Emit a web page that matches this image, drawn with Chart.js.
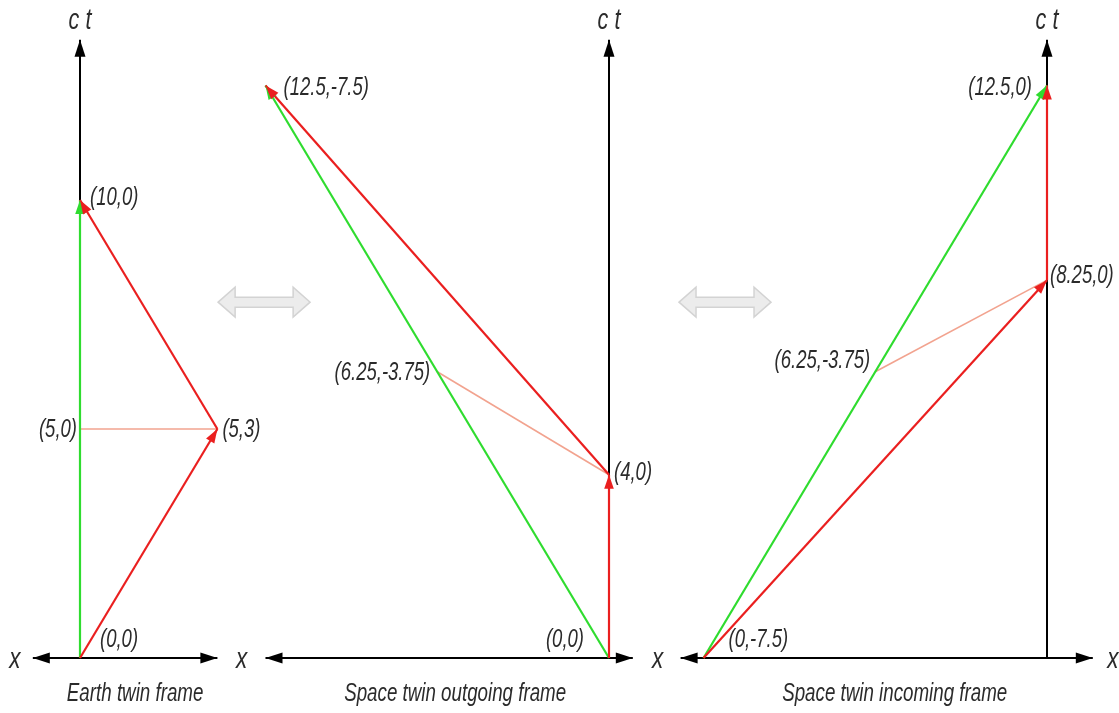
<!DOCTYPE html>
<html>
<head>
<meta charset="utf-8">
<title>Twin paradox spacetime diagrams</title>
<script src="https://cdn.jsdelivr.net/npm/chart.js@4.4.1/dist/chart.umd.min.js"></script>
<style>
  html, body { margin: 0; padding: 0; background: #ffffff; }
  #wrap { position: relative; width: 1119px; height: 713px; }
</style>
</head>
<body>
<div id="wrap"><canvas id="diagram" width="1119" height="713"></canvas></div>
<script>
// ---- Events: x = space coordinate, y = c·t ----

// Earth twin frame
const earthStay      = [{x: 0, y: 0}, {x: 0, y: 10}];
const earthOut       = [{x: 0, y: 0}, {x: 3, y: 5}];
const earthBack      = [{x: 3, y: 5}, {x: 0, y: 10}];
const earthSimul     = [{x: 0, y: 5}, {x: 3, y: 5}];

// Space twin outgoing frame
const outStay        = [{x: 0, y: 0}, {x: -7.5, y: 12.5}];
const outOut         = [{x: 0, y: 0}, {x: 0, y: 4}];
const outBack        = [{x: 0, y: 4}, {x: -7.5, y: 12.5}];
const outSimul       = [{x: 0, y: 4}, {x: -3.75, y: 6.25}];

// Space twin incoming frame
const inStay         = [{x: -7.5, y: 0}, {x: 0, y: 12.5}];
const inOut          = [{x: -7.5, y: 0}, {x: 0, y: 8.25}];
const inBack         = [{x: 0, y: 8.25}, {x: 0, y: 12.5}];
const inSimul        = [{x: -3.75, y: 6.25}, {x: 0, y: 8.25}];

// Axis extents per frame
const earthCtAxis    = [{x: 0, y: 0}, {x: 0, y: 13.5}];
const earthXAxis     = [{x: -1.03, y: 0}, {x: 3.0, y: 0}];
const outCtAxis      = [{x: 0, y: 0}, {x: 0, y: 13.5}];
const outXAxis       = [{x: -7.5, y: 0}, {x: 0.52, y: 0}];
const inCtAxis       = [{x: 0, y: 0}, {x: 0, y: 13.5}];
const inXAxis        = [{x: -8.0, y: 0}, {x: 1.0, y: 0}];

// Event labels
const earthLabels = [
  {x: 0, y: 10, text: '(10,0)'},
  {x: 0, y: 5,  text: '(5,0)'},
  {x: 3, y: 5,  text: '(5,3)'},
  {x: 0, y: 0,  text: '(0,0)'}
];
const outLabels = [
  {x: -7.5,  y: 12.5, text: '(12.5,-7.5)'},
  {x: -3.75, y: 6.25, text: '(6.25,-3.75)'},
  {x: 0,     y: 4,    text: '(4,0)'},
  {x: 0,     y: 0,    text: '(0,0)'}
];
const inLabels = [
  {x: 0,     y: 12.5, text: '(12.5,0)'},
  {x: 0,     y: 8.25, text: '(8.25,0)'},
  {x: -3.75, y: 6.25, text: '(6.25,-3.75)'},
  {x: -7.5,  y: 0,    text: '(0,-7.5)'}
];
const frameTitles = ['Earth twin frame', 'Space twin outgoing frame', 'Space twin incoming frame'];

// ---- Layout ----
const W = 1119, H = 713;
const PX = 45.8;                 // pixels per unit
const ORIGIN_Y = 658;
const ORIGIN_X = [80, 609, 1047];

const GREEN = '#2fdc2f';
const RED = '#ea1f1f';
const SALMON = '#f2a38f';
const AXIS = '#000000';
const TEXT = '#2b2b2b';

// label placement: [dx, dy, align] per label
const labelStyle = {
  x1: [[10, -2, 'left'], [-3, 1, 'right'], [5, 1, 'left'], [20, -18, 'left']],
  x2: [[18, 3, 'left'], [-7, 1, 'right'], [5, -2, 'left'], [-25, -18, 'right']],
  x3: [[-15, 3, 'right'], [3, -4, 'left'], [-5, -11, 'right'], [25, -18, 'left']]
};

function seg(data, axis, color, width, arrow, order) {
  return {
    data, xAxisID: axis, yAxisID: 'y',
    showLine: true, borderColor: color, borderWidth: width,
    pointRadius: 0, pointHoverRadius: 0, fill: false,
    order, arrow, arrowColor: color
  };
}

const datasets = [
  // axes
  seg(earthCtAxis, 'x1', AXIS, 2, 'axis-end', 10),
  seg(earthXAxis,  'x1', AXIS, 2, 'axis-both', 10),
  seg(outCtAxis,   'x2', AXIS, 2, 'axis-end', 10),
  seg(outXAxis,    'x2', AXIS, 2, 'axis-both', 10),
  seg(inCtAxis,    'x3', AXIS, 2, 'axis-end', 10),
  seg(inXAxis,     'x3', AXIS, 2, 'axis-both', 10),
  // lines of simultaneity
  seg(earthSimul, 'x1', SALMON, 1.6, null, 6),
  seg(outSimul,   'x2', SALMON, 1.6, null, 6),
  seg(inSimul,    'x3', SALMON, 1.6, null, 6),
  // stay-at-home twin
  seg(earthStay, 'x1', GREEN, 2.2, 'end', 4),
  seg(outStay,   'x2', GREEN, 2.2, 'end', 4),
  seg(inStay,    'x3', GREEN, 2.2, 'end', 4),
  // travelling twin
  seg(earthOut,  'x1', RED, 2.2, 'end', 2),
  seg(earthBack, 'x1', RED, 2.2, 'end', 2),
  seg(outOut,    'x2', RED, 2.2, 'end', 2),
  seg(outBack,   'x2', RED, 2.2, 'end', 2),
  seg(inOut,     'x3', RED, 2.2, 'end', 2),
  seg(inBack,    'x3', RED, 2.2, 'end', 2)
];

function xScale(origin) {
  return {
    type: 'linear', display: false,
    min: -origin / PX, max: (W - origin) / PX
  };
}

function head(ctx, tip, from, len, half, color) {
  const ang = Math.atan2(tip.y - from.y, tip.x - from.x);
  ctx.save();
  ctx.translate(tip.x, tip.y);
  ctx.rotate(ang);
  ctx.beginPath();
  ctx.moveTo(0, 0);
  ctx.lineTo(-len, -half);
  ctx.lineTo(-len, half);
  ctx.closePath();
  ctx.fillStyle = color;
  ctx.fill();
  ctx.restore();
}

function narrowText(ctx, text, x, y, size, align, sx) {
  ctx.save();
  ctx.translate(x, y);
  ctx.scale(sx, 1);
  ctx.font = 'italic ' + size + 'px "Liberation Sans", Arial, sans-serif';
  ctx.fillStyle = TEXT;
  ctx.textAlign = align;
  ctx.textBaseline = 'middle';
  ctx.fillText(text, 0, 0);
  ctx.restore();
}

function grayDoubleArrow(ctx, cx, cy) {
  const hw = 46, hh = 15, sh = 5, hl = 17;
  ctx.save();
  ctx.beginPath();
  ctx.moveTo(cx - hw, cy);
  ctx.lineTo(cx - hw + hl, cy - hh);
  ctx.lineTo(cx - hw + hl, cy - sh);
  ctx.lineTo(cx + hw - hl, cy - sh);
  ctx.lineTo(cx + hw - hl, cy - hh);
  ctx.lineTo(cx + hw, cy);
  ctx.lineTo(cx + hw - hl, cy + hh);
  ctx.lineTo(cx + hw - hl, cy + sh);
  ctx.lineTo(cx - hw + hl, cy + sh);
  ctx.lineTo(cx - hw + hl, cy + hh);
  ctx.closePath();
  ctx.fillStyle = '#ececec';
  ctx.fill();
  ctx.strokeStyle = '#d3d3d3';
  ctx.lineWidth = 1.5;
  ctx.stroke();
  ctx.restore();
}

// transform symbols between frames, placed in frame coordinates
const frameSwaps = [{axis: 'x1', x: 4.02, y: 7.77}, {axis: 'x3', x: -7.03, y: 7.77}];

const diagramPlugin = {
  id: 'diagram',
  beforeDatasetsDraw(chart) {
    const ctx = chart.ctx;
    const ys = chart.scales.y;
    frameSwaps.forEach(s => {
      grayDoubleArrow(ctx, chart.scales[s.axis].getPixelForValue(s.x), ys.getPixelForValue(s.y));
    });
  },
  afterDatasetsDraw(chart) {
    const ctx = chart.ctx;
    // arrowheads
    chart.data.datasets.forEach((ds, i) => {
      if (!ds.arrow) return;
      const pts = chart.getDatasetMeta(i).data;
      const a = pts[0], b = pts[pts.length - 1];
      if (ds.arrow === 'end') {
        head(ctx, b, a, 14, 4.8, ds.arrowColor);
      } else if (ds.arrow === 'axis-end') {
        head(ctx, b, a, 17, 5.5, ds.arrowColor);
      } else if (ds.arrow === 'axis-both') {
        head(ctx, b, a, 17, 5.5, ds.arrowColor);
        head(ctx, a, b, 17, 5.5, ds.arrowColor);
      }
    });

    const ys = chart.scales.y;
    // event labels
    [['x1', earthLabels], ['x2', outLabels], ['x3', inLabels]].forEach(([ax, list]) => {
      const xs = chart.scales[ax];
      list.forEach((l, k) => {
        const st = labelStyle[ax][k];
        narrowText(ctx, l.text, xs.getPixelForValue(l.x) + st[0], ys.getPixelForValue(l.y) + st[1], 25, st[2], 0.74);
      });
    });

    // axis names
    const ctTop = [earthCtAxis, outCtAxis, inCtAxis];
    ['x1', 'x2', 'x3'].forEach((ax, k) => {
      const xs = chart.scales[ax];
      narrowText(ctx, 'c t', xs.getPixelForValue(ctTop[k][1].x), ys.getPixelForValue(ctTop[k][1].y) - 19, 30, 'center', 0.72);
    });
    const axY = ys.getPixelForValue(0) + 2;
    narrowText(ctx, 'x', chart.scales.x1.getPixelForValue(earthXAxis[0].x) - 18, axY, 30, 'center', 0.75);
    narrowText(ctx, 'x', chart.scales.x2.getPixelForValue(outXAxis[0].x) - 24, axY, 30, 'center', 0.75);
    narrowText(ctx, 'x', chart.scales.x3.getPixelForValue(inXAxis[0].x) - 23, axY, 30, 'center', 0.75);
    narrowText(ctx, 'x', chart.scales.x3.getPixelForValue(inXAxis[1].x) + 20, axY, 30, 'center', 0.75);

    // frame titles, centred under each x axis
    const titleX = [
      (chart.scales.x1.getPixelForValue(earthXAxis[0].x) + chart.scales.x1.getPixelForValue(earthXAxis[1].x)) / 2 + 10,
      (chart.scales.x2.getPixelForValue(outXAxis[0].x) + chart.scales.x2.getPixelForValue(outXAxis[1].x)) / 2 + 6,
      (chart.scales.x3.getPixelForValue(inXAxis[0].x) + chart.scales.x3.getPixelForValue(inXAxis[1].x)) / 2 + 8
    ];
    frameTitles.forEach((t, k) => {
      narrowText(ctx, t, titleX[k], ys.getPixelForValue(0) + 36, 25, 'center', 0.75);
    });
  }
};

new Chart(document.getElementById('diagram'), {
  type: 'scatter',
  data: { datasets },
  options: {
    responsive: false,
    animation: false,
    devicePixelRatio: 1,
    layout: { padding: 0 },
    plugins: { legend: { display: false }, tooltip: { enabled: false } },
    events: [],
    scales: {
      x1: xScale(ORIGIN_X[0]),
      x2: xScale(ORIGIN_X[1]),
      x3: xScale(ORIGIN_X[2]),
      y: {
        type: 'linear', display: false,
        min: -(H - ORIGIN_Y) / PX, max: ORIGIN_Y / PX
      }
    }
  },
  plugins: [diagramPlugin]
});
</script>
</body>
</html>
